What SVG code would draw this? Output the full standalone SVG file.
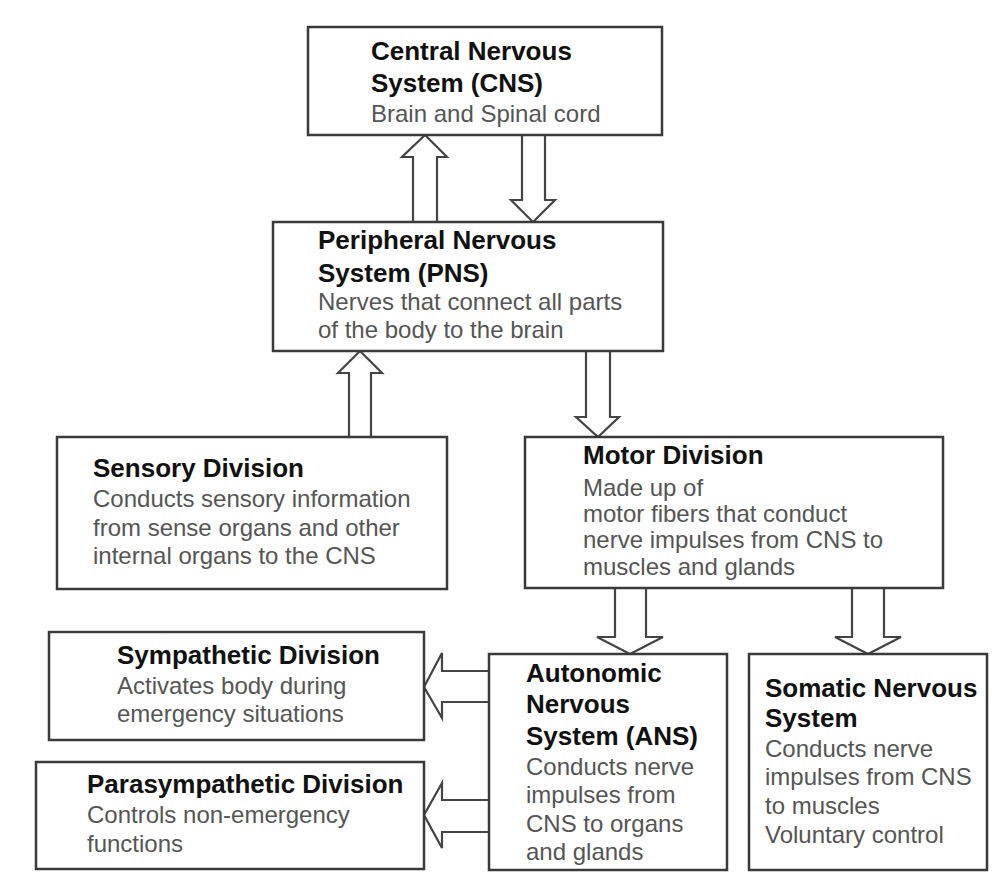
<svg xmlns="http://www.w3.org/2000/svg" width="1006" height="888" viewBox="0 0 1006 888">
<style>
.box{fill:#fff;stroke:#3a3a3a;stroke-width:2.5}
.arr{fill:#fff;stroke:#444;stroke-width:2.2;stroke-linejoin:miter}
.t{font-family:"Liberation Sans",Arial,sans-serif;font-size:26px;font-weight:bold;fill:#111}
.d{font-family:"Liberation Sans",Arial,sans-serif;font-size:24px;fill:#555}
</style>
<rect width="1006" height="888" fill="#fff"/>
<g id="connectors">
<path class="arr" d="M413,222 L413,157 L402,157 L425,135 L447,157 L437,157 L437,222"/>
<path class="arr" d="M522,135 L522,200 L511,200 L533,222 L555,200 L545,200 L545,135"/>
<path class="arr" d="M349,437 L349,373 L338,373 L360,351 L382,373 L371,373 L371,437"/>
<path class="arr" d="M586,351 L586,417 L576,417 L598,437 L619,417 L610,417 L610,351"/>
<path class="arr" d="M615,588 L615,637 L597,637 L630,654 L663,637 L646,637 L646,588"/>
<path class="arr" d="M852,588 L852,637 L835,637 L868,654 L901,637 L884,637 L884,588"/>
<path class="arr" d="M489,671 L442,671 L442,653 L424,687 L442,718 L442,702 L489,702"/>
<path class="arr" d="M489,800 L442,800 L442,783 L424,815 L442,848 L442,832 L489,832"/>
</g>
<g id="cns">
<rect class="box" x="308" y="27" width="354" height="108"/>
<text class="t" x="371" y="60">Central Nervous</text>
<text class="t" x="371" y="92">System (CNS)</text>
<text class="d" x="371" y="122">Brain and Spinal cord</text>
</g>
<g id="pns">
<rect class="box" x="273" y="222" width="390" height="129"/>
<text class="t" x="318" y="249">Peripheral Nervous</text>
<text class="t" x="318" y="282">System (PNS)</text>
<text class="d" x="318" y="310">Nerves that connect all parts</text>
<text class="d" x="318" y="338">of the body to the brain</text>
</g>
<g id="sensory">
<rect class="box" x="57" y="437" width="390" height="152"/>
<text class="t" x="93" y="477">Sensory Division</text>
<text class="d" x="93" y="507">Conducts sensory information</text>
<text class="d" x="93" y="536">from sense organs and other</text>
<text class="d" x="93" y="564">internal organs to the CNS</text>
</g>
<g id="motor">
<rect class="box" x="525" y="437" width="418" height="151"/>
<text class="t" x="583" y="464">Motor Division</text>
<text class="d" x="583" y="496">Made up of</text>
<text class="d" x="583" y="522">motor fibers that conduct</text>
<text class="d" x="583" y="548">nerve impulses from CNS to</text>
<text class="d" x="583" y="575">muscles and glands</text>
</g>
<g id="sympathetic">
<rect class="box" x="49" y="632" width="375" height="108"/>
<text class="t" x="117" y="664">Sympathetic Division</text>
<text class="d" x="117" y="694">Activates body during</text>
<text class="d" x="117" y="722">emergency situations</text>
</g>
<g id="parasympathetic">
<rect class="box" x="36" y="762" width="388" height="107"/>
<text class="t" x="87" y="793">Parasympathetic Division</text>
<text class="d" x="87" y="823">Controls non-emergency</text>
<text class="d" x="87" y="852">functions</text>
</g>
<g id="ans">
<rect class="box" x="489" y="654" width="238" height="216"/>
<text class="t" x="526" y="682">Autonomic</text>
<text class="t" x="526" y="713">Nervous</text>
<text class="t" x="526" y="745">System (ANS)</text>
<text class="d" x="526" y="775">Conducts nerve</text>
<text class="d" x="526" y="803">impulses from</text>
<text class="d" x="526" y="832">CNS to organs</text>
<text class="d" x="526" y="860">and glands</text>
</g>
<g id="somatic">
<rect class="box" x="749" y="654" width="238" height="216"/>
<text class="t" x="765" y="697">Somatic Nervous</text>
<text class="t" x="765" y="727">System</text>
<text class="d" x="765" y="757">Conducts nerve</text>
<text class="d" x="765" y="785">impulses from CNS</text>
<text class="d" x="765" y="814">to muscles</text>
<text class="d" x="765" y="843">Voluntary control</text>
</g>
</svg>
